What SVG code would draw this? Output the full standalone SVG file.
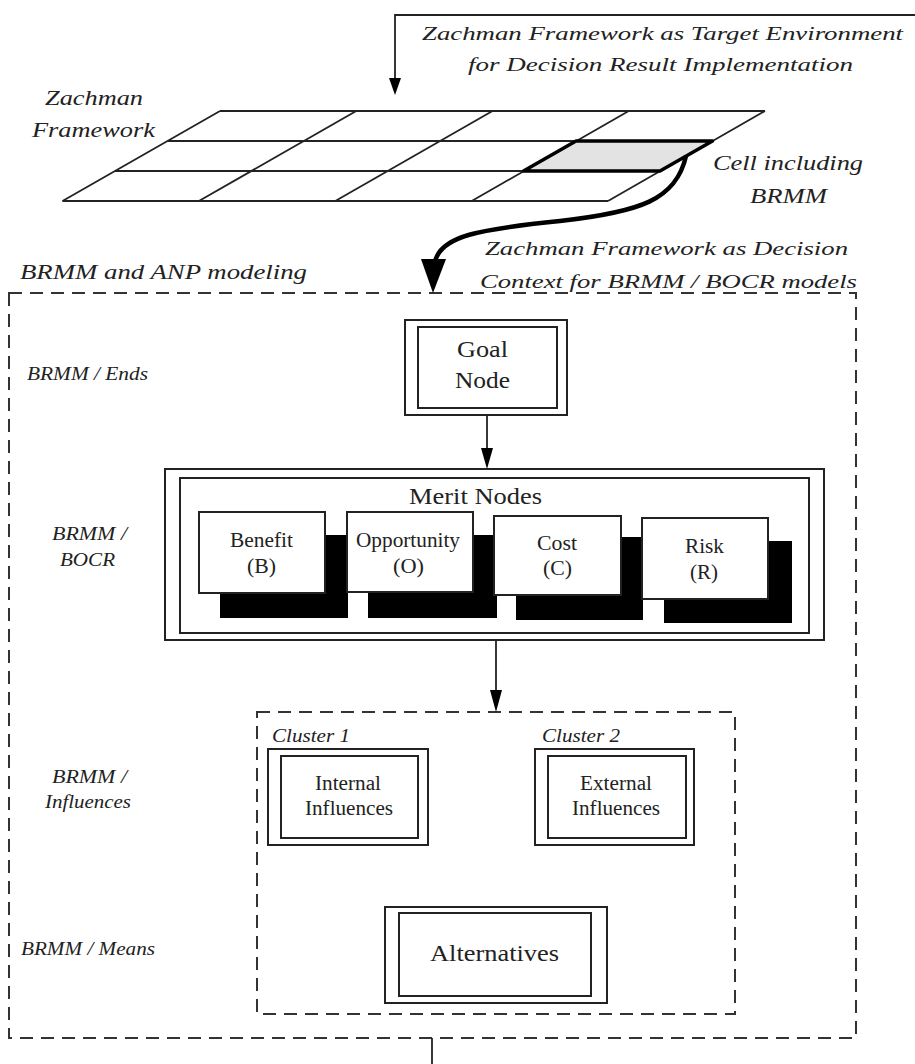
<svg xmlns="http://www.w3.org/2000/svg" width="915" height="1064" viewBox="0 0 915 1064">
<defs>
<style>
.t{font-family:"Liberation Serif","Times New Roman",serif;fill:#222;}
.i{font-style:italic;}
.box{fill:#fff;stroke:#222;stroke-width:2;}
.dash{fill:none;stroke:#333;stroke-width:2;stroke-dasharray:13 8;}
.grid{fill:none;stroke:#222;stroke-width:1.8;}
.ln{fill:none;stroke:#222;stroke-width:1.8;}
.sh{fill:#000;}
</style>
</defs>
<rect width="915" height="1064" fill="#fff"/>

<g id="zachman-grid">
<polygon points="576,141 712.5,141 660,171 523.5,171" fill="#e3e3e3" stroke="none"/>
<line class="grid" x1="220" y1="111" x2="765" y2="111"/>
<line class="grid" x1="167.5" y1="141" x2="712.5" y2="141"/>
<line class="grid" x1="115" y1="171" x2="660" y2="171"/>
<line class="grid" x1="62.5" y1="201" x2="608" y2="201"/>
<line class="grid" x1="220" y1="111" x2="62.5" y2="201"/>
<line class="grid" x1="356.25" y1="111" x2="198.9" y2="201"/>
<line class="grid" x1="492.5" y1="111" x2="335.3" y2="201"/>
<line class="grid" x1="628.75" y1="111" x2="471.7" y2="201"/>
<line class="grid" x1="765" y1="111" x2="608" y2="201"/>
<polygon points="576,141 712.5,141 660,171 523.5,171" fill="none" stroke="#000" stroke-width="3.5" stroke-linejoin="round"/>
<text class="t i" x="45" y="105" font-size="21" textLength="98" lengthAdjust="spacingAndGlyphs">Zachman</text>
<text class="t i" x="32" y="137" font-size="21" textLength="123" lengthAdjust="spacingAndGlyphs">Framework</text>
<text class="t i" x="713" y="170" font-size="21" textLength="150" lengthAdjust="spacingAndGlyphs">Cell including</text>
<text class="t i" x="750" y="203" font-size="21" textLength="77" lengthAdjust="spacingAndGlyphs">BRMM</text>
</g>

<g id="top-label">
<text class="t i" x="422" y="40" font-size="19" textLength="481" lengthAdjust="spacingAndGlyphs">Zachman Framework as Target Environment</text>
<text class="t i" x="468" y="71" font-size="19" textLength="385" lengthAdjust="spacingAndGlyphs">for Decision Result Implementation</text>
</g>

<g id="context-label">
<text class="t i" x="485" y="255" font-size="19" textLength="363" lengthAdjust="spacingAndGlyphs">Zachman Framework as Decision</text>
<text class="t i" x="480" y="288" font-size="19" textLength="377" lengthAdjust="spacingAndGlyphs">Context for BRMM / BOCR models</text>
</g>

<g id="brmm-anp-container">
<rect class="dash" x="9" y="293" width="847" height="745"/>
<text class="t i" x="20" y="279" font-size="21" textLength="287" lengthAdjust="spacingAndGlyphs">BRMM and ANP modeling</text>
<text class="t i" x="27" y="380" font-size="19" textLength="121" lengthAdjust="spacingAndGlyphs">BRMM / Ends</text>
<text class="t i" x="52" y="540" font-size="19" textLength="75" lengthAdjust="spacingAndGlyphs">BRMM /</text>
<text class="t i" x="60" y="566" font-size="19" textLength="55" lengthAdjust="spacingAndGlyphs">BOCR</text>
<text class="t i" x="52" y="783" font-size="19" textLength="75" lengthAdjust="spacingAndGlyphs">BRMM /</text>
<text class="t i" x="45" y="808" font-size="19" textLength="86" lengthAdjust="spacingAndGlyphs">Influences</text>
<text class="t i" x="21" y="955" font-size="19" textLength="134" lengthAdjust="spacingAndGlyphs">BRMM / Means</text>
</g>

<g id="goal-node">
<rect class="box" x="405" y="320" width="162" height="95"/>
<rect class="box" x="418" y="327" width="139" height="81"/>
<text class="t" x="457" y="357" font-size="24" textLength="51" lengthAdjust="spacingAndGlyphs">Goal</text>
<text class="t" x="455" y="388" font-size="24" textLength="55" lengthAdjust="spacingAndGlyphs">Node</text>
</g>

<g id="merit-nodes">
<rect class="box" x="165" y="469" width="659" height="171"/>
<rect class="box" x="180" y="478" width="629" height="155"/>
<text class="t" x="409" y="504" font-size="23" textLength="133" lengthAdjust="spacingAndGlyphs">Merit Nodes</text>
</g>

<g id="benefit">
<rect class="sh" x="220" y="535" width="128" height="83"/>
<rect class="box" x="199" y="512" width="126" height="81"/>
<text class="t" x="230" y="547" font-size="20" textLength="63" lengthAdjust="spacingAndGlyphs">Benefit</text>
<text class="t" x="247" y="573" font-size="20" textLength="29" lengthAdjust="spacingAndGlyphs">(B)</text>
</g>

<g id="opportunity">
<rect class="sh" x="368" y="535" width="129" height="83"/>
<rect class="box" x="347" y="512" width="126" height="80"/>
<text class="t" x="356" y="547" font-size="20" textLength="104" lengthAdjust="spacingAndGlyphs">Opportunity</text>
<text class="t" x="393" y="573" font-size="20" textLength="31" lengthAdjust="spacingAndGlyphs">(O)</text>
</g>

<g id="cost">
<rect class="sh" x="516" y="537" width="127" height="83"/>
<rect class="box" x="494" y="516" width="127" height="79"/>
<text class="t" x="537" y="550" font-size="20" textLength="40" lengthAdjust="spacingAndGlyphs">Cost</text>
<text class="t" x="543" y="575" font-size="20" textLength="29" lengthAdjust="spacingAndGlyphs">(C)</text>
</g>

<g id="risk">
<rect class="sh" x="664" y="541" width="128" height="82"/>
<rect class="box" x="642" y="518" width="126" height="81"/>
<text class="t" x="685" y="553" font-size="20" textLength="39" lengthAdjust="spacingAndGlyphs">Risk</text>
<text class="t" x="690" y="579" font-size="20" textLength="28" lengthAdjust="spacingAndGlyphs">(R)</text>
</g>

<g id="cluster-area">
<rect class="dash" x="257" y="712" width="478" height="302"/>
<text class="t i" x="272" y="742" font-size="19" textLength="78" lengthAdjust="spacingAndGlyphs">Cluster 1</text>
<text class="t i" x="542" y="742" font-size="19" textLength="78" lengthAdjust="spacingAndGlyphs">Cluster 2</text>
</g>

<g id="internal-influences">
<rect class="box" x="268" y="749" width="160" height="96"/>
<rect class="box" x="281" y="756" width="137" height="82"/>
<text class="t" x="315" y="790" font-size="20" textLength="66" lengthAdjust="spacingAndGlyphs">Internal</text>
<text class="t" x="305" y="815" font-size="20" textLength="88" lengthAdjust="spacingAndGlyphs">Influences</text>
</g>

<g id="external-influences">
<rect class="box" x="535" y="749" width="159" height="96"/>
<rect class="box" x="548" y="756" width="138" height="82"/>
<text class="t" x="580" y="790" font-size="20" textLength="72" lengthAdjust="spacingAndGlyphs">External</text>
<text class="t" x="572" y="815" font-size="20" textLength="88" lengthAdjust="spacingAndGlyphs">Influences</text>
</g>

<g id="alternatives">
<rect class="box" x="385" y="907" width="222" height="96"/>
<rect class="box" x="399" y="913" width="192" height="83"/>
<text class="t" x="430" y="961" font-size="24" textLength="129" lengthAdjust="spacingAndGlyphs">Alternatives</text>
</g>

<g id="connectors">
<polyline class="ln" points="915,15 395,15 395,80"/>
<polygon points="389,78 401,78 395,95" fill="#000"/>
<path d="M686,156 C676,200 640,212 560,221 C480,229 440,236 435,262" fill="none" stroke="#000" stroke-width="4.5"/>
<polygon points="421,259 446,259 433,293" fill="#000"/>
<line class="ln" x1="487" y1="415" x2="487" y2="450"/>
<polygon points="481,448 493,448 487,469" fill="#000"/>
<line class="ln" x1="496" y1="640" x2="496" y2="692"/>
<polygon points="490,690 502,690 496,712" fill="#000"/>
<line class="ln" x1="432" y1="1038" x2="432" y2="1064"/>
</g>
</svg>
